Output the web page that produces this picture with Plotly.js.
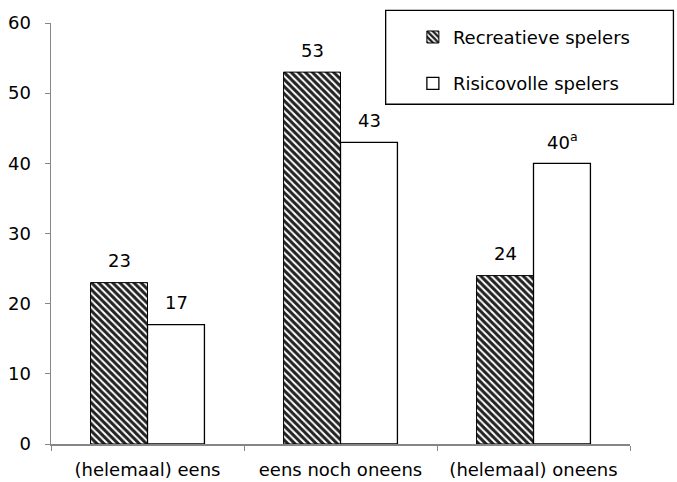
<!DOCTYPE html>
<html><head><meta charset="utf-8">
<script src="https://cdn.plot.ly/plotly-3.0.1.min.js"></script>
<style>body{margin:0;background:#fff}#c{width:677px;height:482px}</style>
</head><body><div id="c"></div>
<script>
const categories = ["(helemaal) eens", "eens noch oneens", "(helemaal) oneens"];
const seriesNames = ["Recreatieve spelers", "Risicovolle spelers"];
const recreatief = [23, 53, 24];
const risicovol = [17, 43, 40];
const risicovolLabels = ["17", "43", "40<sup>a</sup>"];
const yTicks = [0, 10, 20, 30, 40, 50, 60];

const font = {family: "DejaVu Sans", size: 18, color: "#000"};

const traces = [
  {type: "bar", name: seriesNames[0], x: categories, y: recreatief, legendgroup: "a",
   marker: {color: "#fff", line: {color: "#000", width: 1},
     pattern: {shape: "\\", fgcolor: "#222", bgcolor: "#fff", size: 5, solidity: 0.6}},
   hoverinfo: "none"},
  {type: "bar", name: seriesNames[1], x: categories, y: risicovol, legendgroup: "b",
   marker: {color: "#fff", line: {color: "#000", width: 1.3}}, hoverinfo: "none"}
];

const annotations = [];
categories.forEach((c, i) => {
  annotations.push({x: c, y: recreatief[i], xref: "x", yref: "y", text: String(recreatief[i]),
    showarrow: false, xshift: -28.5, yshift: 22, font: font});
  annotations.push({x: c, y: risicovol[i], xref: "x", yref: "y", text: risicovolLabels[i],
    showarrow: false, xshift: 28.5, yshift: 22, font: font});
});

const layout = {
  width: 677, height: 482,
  margin: {l: 51, r: 47, t: 23, b: 38, pad: 0},
  paper_bgcolor: "#fff", plot_bgcolor: "#fff",
  font: font,
  barmode: "group", bargap: 0.41, bargroupgap: 0,
  showlegend: true,
  legend: {x: 0.625, y: 1.01, xanchor: "left", yanchor: "top", bgcolor: "rgba(0,0,0,0)",
    borderwidth: 0, tracegroupgap: 20, font: font, traceorder: "grouped", itemwidth: 30},
  xaxis: {type: "category", showline: true, linecolor: "#868686", linewidth: 1.5,
    ticks: "outside", tickson: "boundaries", ticklen: 5, tickcolor: "#868686",
    ticklabelstandoff: 9,
    showgrid: false, zeroline: false, tickfont: font, fixedrange: true},
  yaxis: {range: [0, 60], tickvals: yTicks, showline: true, linecolor: "#868686", linewidth: 1.5,
    ticks: "outside", ticklen: 5, tickcolor: "#868686", showgrid: false, zeroline: false,
    ticklabelstandoff: 10,
    tickfont: font, fixedrange: true},
  shapes: [{type: "rect", xref: "paper", yref: "paper", x0: 0.578, x1: 1.075, y0: 0.807, y1: 1.03,
    line: {color: "#000", width: 1.3}, fillcolor: "#fff", layer: "below"}],
  annotations: annotations
};

Plotly.newPlot("c", traces, layout, {staticPlot: true});
</script></body></html>
